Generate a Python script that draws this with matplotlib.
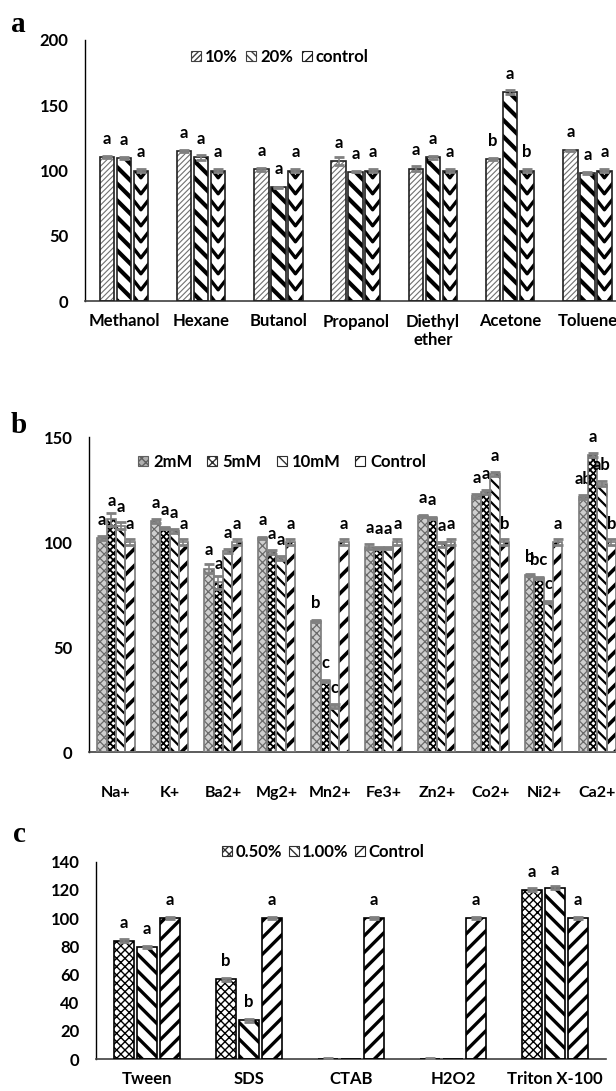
import numpy as np
import matplotlib
matplotlib.use('Agg')
import matplotlib.pyplot as plt
from matplotlib.patches import Patch

plt.rcParams['font.family'] = ['Lato', 'DejaVu Sans']
plt.rcParams['font.weight'] = 'bold'
plt.rcParams['font.size'] = 12

# ---- panel a : solvents ----
solvents = ['Methanol', 'Hexane', 'Butanol', 'Propanol', 'Diethyl\nether', 'Acetone', 'Toluene']
a_10 = [110, 115, 101, 107, 101.5, 109, 115.5]
a_20 = [109.5, 110, 87, 99, 110, 160, 98]
a_ctrl = [100, 100, 100, 100, 100, 100, 100]
a_10_err = [0.8, 0.8, 1, 3, 2, 0.8, 0.5]
a_20_err = [0.5, 2, 0.5, 0.5, 1, 1.5, 1]
a_ctrl_err = [1.5] * 7
a_10_let = ['a', 'a', 'a', 'a', 'a', 'b', 'a']
a_20_let = ['a', 'a', 'a', 'a', 'a', 'a', 'a']
a_ctrl_let = ['a', 'a', 'a', 'a', 'a', 'b', 'a']

# ---- panel b : metal ions ----
ions = ['Na+', 'K+', 'Ba2+', 'Mg2+', 'Mn2+', 'Fe3+', 'Zn2+', 'Co2+', 'Ni2+', 'Ca2+']
b_2 = [102, 110, 87.5, 102, 62.5, 98, 112.5, 122, 84.5, 121.5]
b_5 = [111, 107, 81, 95.5, 34, 97.5, 111.5, 124, 83, 141.5]
b_10 = [108, 105.5, 96, 92.5, 22, 97.5, 99, 132.5, 71.5, 128]
b_ctrl = [100] * 10
b_2_err = [1, 1, 2, 0.5, 0.5, 1, 0.5, 1, 0.5, 1]
b_5_err = [3, 0.5, 3, 1, 0.5, 0.5, 0.5, 1, 0.5, 1]
b_10_err = [1.5, 1, 1, 1, 1, 0.5, 1, 1, 0.5, 1]
b_ctrl_err = [1.5] * 10
b_2_let = ['a', 'a', 'a', 'a', 'b', 'a', 'a', 'a', 'b', 'ab']
b_5_let = ['a', 'a', 'a', 'a', 'c', 'a', 'a', 'a', 'bc', 'a']
b_10_let = ['a', 'a', 'a', 'a', 'c', 'a', 'a', 'a', 'c', 'ab']
b_ctrl_let = ['a', 'a', 'a', 'a', 'a', 'a', 'a', 'b', 'a', 'b']

# ---- panel c : surfactants ----
surf = ['Tween', 'SDS', 'CTAB', 'H2O2', 'Triton X-100']
c_05 = [84, 56.5, 0, 0, 120]
c_100 = [79.5, 27.5, 0, 0, 121.5]
c_ctrl = [100] * 5
c_05_err = [1, 1, 0.6, 0.6, 1]
c_100_err = [0.5, 1, 0, 0, 1]
c_ctrl_err = [1] * 5
c_05_let = ['a', 'b', '', '', 'a']
c_100_let = ['a', 'b', '', '', 'a']
c_ctrl_let = ['a', 'a', 'a', 'a', 'a']

W, H, DPI = 616, 1091, 100
fig = plt.figure(figsize=(W / DPI, H / DPI), dpi=DPI)


def px_axes(left, top, right, bottom):
  return fig.add_axes([left / W, 1 - bottom / H, (right - left) / W, (bottom - top) / H])


def zigzag(ax, bars, period=16, lw=2.4):
  inv = ax.transData.inverted()
  p = inv.transform((0, period))[1] - inv.transform((0, 0))[1]
  for b in bars:
    x0, w, h = b.get_x(), b.get_width(), b.get_height()
    xs, ys = [], []
    for k in range(int(h / p) + 2):
      base = k * p - p * 0.3
      xs += [x0 - w * 0.1, x0 + w / 2, x0 + w * 1.1, np.nan]
      ys += [base + p * 0.7, base, base + p * 0.7, np.nan]
    ln, = ax.plot(xs, ys, color='black', lw=lw, solid_capstyle='butt',
                  scalex=False, scaley=False, zorder=2)
    ln.set_clip_path(b)


def series(ax, x, vals, err, lets, width, hatch, hcolor, hlw, outline, olw=1.2,
           zig=False, face='white'):
  vals = np.asarray(vals, float)
  bars = ax.bar(x, vals, width, color=face, edgecolor=hcolor, hatch=hatch, linewidth=0, zorder=1)
  for b in bars:
    try:
      b.set_hatch_linewidth(hlw)
    except AttributeError:
      pass
  if zig:
    zigzag(ax, bars)
  ax.bar(x, vals, width, fill=False, edgecolor=outline, linewidth=olw, zorder=3)
  err = np.asarray(err, float)
  keep = err > 0
  ax.errorbar(np.asarray(x)[keep], vals[keep], yerr=err[keep], fmt='none', ecolor='#808080',
              elinewidth=1.2, capsize=3.5, capthick=2, zorder=4)
  for xi, v, t in zip(x, vals, lets):
    if t:
      ax.annotate(t, (xi, v), xytext=(0, 13), textcoords='offset points',
                  ha='center', va='center', fontsize=12, fontweight='bold')
  return bars


def style(ax, ylim, yticks, cats, xpad, xsize=12):
  ax.set_xlim(-0.5, len(cats) - 0.5)
  ax.set_ylim(*ylim)
  ax.set_yticks(yticks)
  ax.set_xticks(range(len(cats)))
  ax.set_xticklabels(cats)
  for s in ['top', 'right']:
    ax.spines[s].set_visible(False)
  ax.spines['left'].set_linewidth(1)
  ax.spines['bottom'].set_color('#404040')
  ax.spines['bottom'].set_linewidth(1.2)
  ax.tick_params(axis='y', length=0, pad=12, labelsize=12)
  ax.tick_params(axis='x', length=0, pad=xpad, labelsize=xsize)
  for lab in ax.get_xticklabels() + ax.get_yticklabels():
    lab.set_fontweight('bold')


legend_kw = dict(frameon=False, handlelength=0.6, handleheight=0.6, borderaxespad=0,
                 borderpad=0, prop={'weight': 'bold', 'size': 12})

# ---------- a ----------
axa = px_axes(85.3, 40, 626, 301)
style(axa, (0, 200), range(0, 201, 50), solvents, 9)
xa = np.arange(len(solvents))
series(axa, xa - 0.22, a_10, a_10_err, a_10_let, 0.188, '//////', '#707070', 0.8, '#202020')
series(axa, xa, a_20, a_20_err, a_20_let, 0.188, '\\\\', 'black', 3.0, '#202020')
series(axa, xa + 0.22, a_ctrl, a_ctrl_err, a_ctrl_let, 0.188, None, 'black', 1, '#202020', zig=True)
hand_a = [Patch(facecolor='white', edgecolor='#404040', hatch='//////', lw=0.8, label='10%'),
          Patch(facecolor='white', edgecolor='#404040', hatch='\\\\\\\\', lw=0.8, label='20%'),
          Patch(facecolor='white', edgecolor='#202020', hatch='///', lw=0.8, label='control')]
fig.legend(handles=hand_a, loc='center left', bbox_to_anchor=(191 / W, 1 - 57 / H), ncol=3,
           handletextpad=0.25, columnspacing=0.5, **legend_kw)

# ---------- b ----------
axb = px_axes(89.3, 437.3, 624, 752.3)
style(axb, (0, 150), range(0, 151, 50), ions, 24, xsize=11.5)
xb = np.arange(len(ions))
bw = 0.174
series(axb, xb - 1.5 * bw, b_2, b_2_err, b_2_let, bw, 'xxxx', '#6a6a6a', 0.9, '#7a7a7a', face='#cfcfcf')
series(axb, xb - 0.5 * bw, b_5, b_5_err, b_5_let, bw, 'xxxxx', 'black', 1.3, '#7a7a7a')
series(axb, xb + 0.5 * bw, b_10, b_10_err, b_10_let, bw, '\\\\\\', 'black', 1.6, '#7a7a7a')
series(axb, xb + 1.5 * bw, b_ctrl, b_ctrl_err, b_ctrl_let, bw, '//', 'black', 2.6, '#7a7a7a')
hand_b = [Patch(facecolor='#b0b0b0', edgecolor='#606060', hatch='xxxx', lw=0.8, label='2mM'),
          Patch(facecolor='white', edgecolor='#303030', hatch='xxxx', lw=0.8, label='5mM'),
          Patch(facecolor='white', edgecolor='#303030', hatch='\\\\\\', lw=0.8, label='10mM'),
          Patch(facecolor='white', edgecolor='#202020', hatch='//', lw=0.8, label='Control')]
fig.legend(handles=hand_b, loc='center left', bbox_to_anchor=(138 / W, 1 - 462 / H), ncol=4,
           handletextpad=0.3, columnspacing=0.9, **legend_kw)

# ---------- c ----------
axc = px_axes(96, 861.7, 606, 1059)
style(axc, (0, 140), range(0, 141, 20), surf, 9)
xc = np.arange(len(surf))
series(axc, xc - 0.225, c_05, c_05_err, c_05_let, 0.19, 'xxxx', 'black', 1.0, 'black')
series(axc, xc, c_100, c_100_err, c_100_let, 0.19, '\\\\', 'black', 2.4, 'black')
series(axc, xc + 0.225, c_ctrl, c_ctrl_err, c_ctrl_let, 0.19, '//', 'black', 2.4, 'black')
hand_c = [Patch(facecolor='white', edgecolor='#303030', hatch='xxxx', lw=0.8, label='0.50%'),
          Patch(facecolor='white', edgecolor='#303030', hatch='\\\\\\\\', lw=0.8, label='1.00%'),
          Patch(facecolor='white', edgecolor='#202020', hatch='///', lw=0.8, label='Control')]
fig.legend(handles=hand_c, loc='center left', bbox_to_anchor=(222 / W, 1 - 852 / H), ncol=3,
           handletextpad=0.2, columnspacing=0.4, **legend_kw)

# panel letters
for t, (x, y) in zip(['a', 'b', 'c'], [(18, 24), (19, 425), (19, 834)]):
  fig.text(x / W, 1 - y / H, t, ha='center', va='center', fontsize=21,
           family='Liberation Serif', fontweight='bold')

fig.savefig('out.png', dpi=DPI)
